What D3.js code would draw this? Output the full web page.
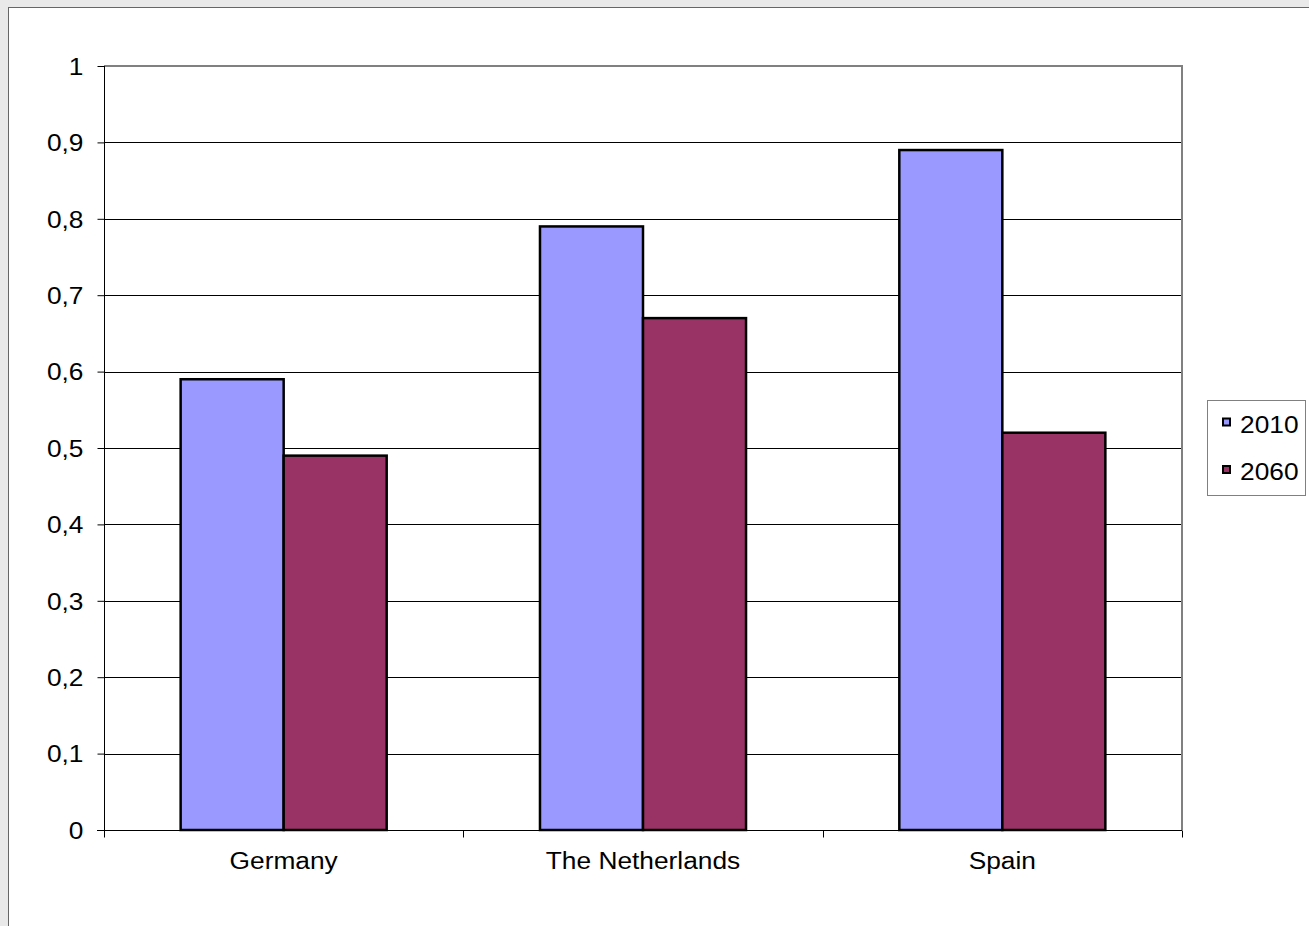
<!DOCTYPE html>
<html>
<head>
<meta charset="utf-8">
<script src="https://cdn.jsdelivr.net/npm/d3@7"></script>
<style>
  html, body { margin: 0; padding: 0; background: #e9e9e9; }
  svg { display: block; }
</style>
</head>
<body>
<script>
// Data
const categories = ["Germany", "The Netherlands", "Spain"];
const seriesNames = ["2010", "2060"];
const values2010 = [0.59, 0.79, 0.89];
const values2060 = [0.49, 0.67, 0.52];
const yTicks = [0, 0.1, 0.2, 0.3, 0.4, 0.5, 0.6, 0.7, 0.8, 0.9, 1];
const seriesColors = ["#9999FF", "#993366"];

const W = 1309, H = 926;
const plot = { left: 104, right: 1182, top: 66, bottom: 830 };
const fontFamily = "Arial, 'Liberation Sans', sans-serif";
const fontSize = 23.5;
const stretch = 1.12; // horizontal stretch applied to text

const svg = d3.select("body").append("svg").attr("width", W).attr("height", H);

// chart sheet
svg.append("rect").attr("x", 8.5).attr("y", 7.5).attr("width", W + 10).attr("height", H + 10)
  .attr("fill", "#fff").attr("stroke", "#666").attr("stroke-width", 1);

const y = d3.scaleLinear().domain([0, 1]).range([plot.bottom, plot.top]);
const x0 = d3.scaleBand().domain(categories).range([plot.left, plot.right]).paddingInner(0).paddingOuter(0);
const x1 = d3.scaleBand().domain(seriesNames).range([0, x0.bandwidth()]).paddingInner(0).paddingOuter(0.744);

const rows = categories.map((c, i) => ({ category: c, values: [values2010[i], values2060[i]] }));

// gridlines
svg.append("g").selectAll("line").data(yTicks.filter(t => t > 0 && t < 1)).join("line")
  .attr("x1", plot.left).attr("x2", plot.right)
  .attr("y1", d => Math.round(y(d)) + 0.5).attr("y2", d => Math.round(y(d)) + 0.5)
  .attr("stroke", "#000").attr("stroke-width", 1);

// plot area top/right border
svg.append("path")
  .attr("d", `M${plot.left},${plot.top} H${plot.right} V${plot.bottom}`)
  .attr("fill", "none").attr("stroke", "#808080").attr("stroke-width", 2);

// bars
const groups = svg.append("g").selectAll("g").data(rows).join("g")
  .attr("transform", d => `translate(${x0(d.category)},0)`);
groups.selectAll("rect").data(d => d.values.map((v, i) => ({ key: seriesNames[i], v, i }))).join("rect")
  .attr("x", d => x1(d.key))
  .attr("y", d => y(d.v))
  .attr("width", x1.bandwidth())
  .attr("height", d => y(0) - y(d.v))
  .attr("fill", d => seriesColors[d.i])
  .attr("stroke", "#000").attr("stroke-width", 2.5);

// y axis
const yAxis = svg.append("g").attr("transform", `translate(${plot.left + 0.5},0)`)
  .call(d3.axisLeft(y).tickValues(yTicks).tickSize(7).tickPadding(0)
    .tickFormat(d => d3.format(".1~f")(d).replace(".", ",")));
yAxis.select(".domain").attr("stroke", "#000").attr("d", `M0,${plot.top} V${plot.bottom}`);
yAxis.selectAll(".tick line").attr("stroke", "#000");
yAxis.selectAll(".tick text")
  .attr("font-family", fontFamily).attr("font-size", fontSize).attr("fill", "#000")
  .attr("x", -21 / stretch).attr("dy", "0.35em")
  .attr("transform", `scale(${stretch},1)`);

// x axis
const xAxis = svg.append("g").attr("transform", `translate(0,${plot.bottom + 0.5})`);
xAxis.append("line").attr("x1", plot.left - 7).attr("x2", plot.right).attr("stroke", "#000");
xAxis.selectAll("line.tk").data(d3.range(categories.length + 1)).join("line").attr("class", "tk")
  .attr("x1", i => Math.round(plot.left + i * x0.step()) + 0.5)
  .attr("x2", i => Math.round(plot.left + i * x0.step()) + 0.5)
  .attr("y1", 0).attr("y2", 7).attr("stroke", "#000");
xAxis.selectAll("text").data(categories).join("text")
  .attr("transform", d => `translate(${x0(d) + x0.bandwidth() / 2},38) scale(${stretch},1)`)
  .attr("text-anchor", "middle")
  .attr("font-family", fontFamily).attr("font-size", fontSize).attr("fill", "#000")
  .text(d => d);

// legend
const legend = svg.append("g");
legend.append("rect").attr("x", 1207.5).attr("y", 400.5).attr("width", 98).attr("height", 95)
  .attr("fill", "#fff").attr("stroke", "#808080").attr("stroke-width", 1);
const items = legend.selectAll("g.item").data(seriesNames).join("g").attr("class", "item")
  .attr("transform", (d, i) => `translate(1222,${422 + i * 47.5})`);
items.append("rect").attr("x", 1).attr("y", -3.5).attr("width", 7).attr("height", 7)
  .attr("fill", (d, i) => seriesColors[i]).attr("stroke", "#000").attr("stroke-width", 2);
items.append("text")
  .attr("transform", `translate(18,10.5) scale(${stretch},1)`)
  .attr("font-family", fontFamily).attr("font-size", fontSize).attr("fill", "#000")
  .text(d => d);
</script>
</body>
</html>
